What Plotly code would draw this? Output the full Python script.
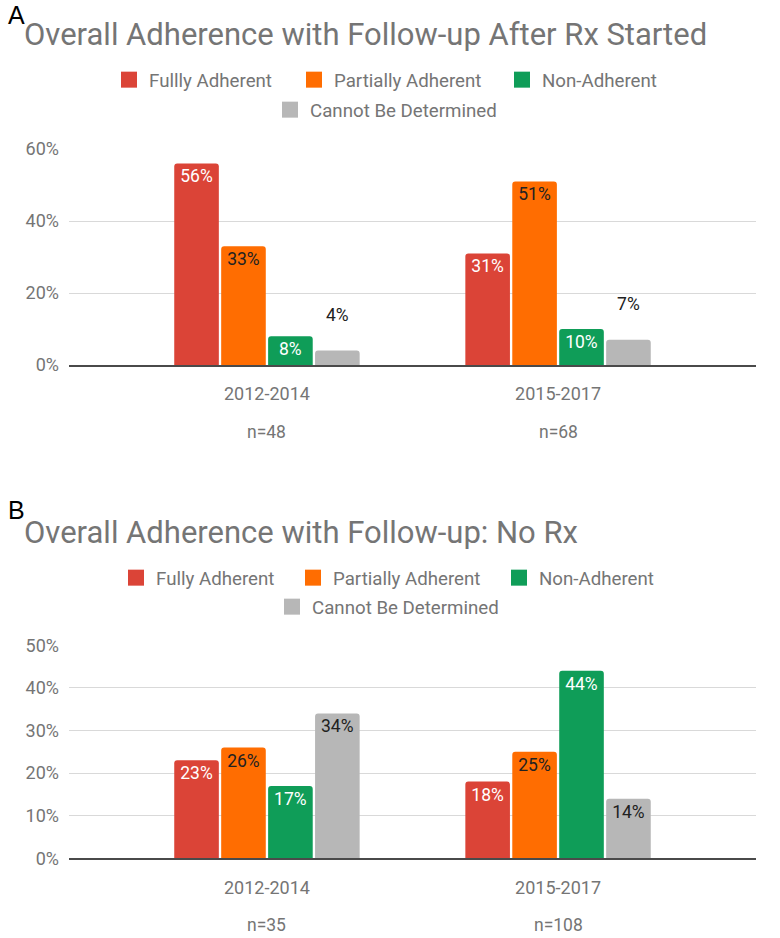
import plotly.graph_objects as go
from plotly.subplots import make_subplots

categories = ["2012-2014", "2015-2017"]
n_a = ["n=48", "n=68"]
n_b = ["n=35", "n=108"]
series_a = ["Fullly Adherent", "Partially Adherent", "Non-Adherent", "Cannot Be Determined"]
series_b = ["Fully Adherent", "Partially Adherent", "Non-Adherent", "Cannot Be Determined"]

fully_a = [56, 31]
partial_a = [33, 51]
non_a = [8, 10]
cbd_a = [4, 7]

fully_b = [23, 18]
partial_b = [26, 25]
non_b = [17, 44]
cbd_b = [34, 14]

title_a = "Overall Adherence with Follow-up After Rx Started"
title_b = "Overall Adherence with Follow-up: No Rx"

colors = ["#DB4437", "#FF6D01", "#0F9D58", "#B7B7B7"]
text_colors = ["#FFFFFF", "#212121", "#FFFFFF", "#212121"]
FONT = "Roboto"
GRAY = "#757575"

H = 938.0
W0, W1 = 69, 756


def py(px):
    return 1 - px / H


def px_x(px):
    return (px - W0) / (W1 - W0)


# legend swatch centre positions (pixels) for each panel: (x, y)
legend_pos_a = [(129, 80), (314, 80), (522, 80), (290, 110)]
legend_pos_b = [(136, 578), (313, 578), (519, 578), (292, 607)]

fig = make_subplots(rows=2, cols=1)


def add_panel(row, names, data, legend_ids, outside_idx):
    for i, (name, vals) in enumerate(zip(names, data)):
        if i in outside_idx:
            txt = [f"{v}%<br>\u00a0" for v in vals]
            pos = "outside"
        else:
            txt = [f"{v}%" for v in vals]
            pos = "inside"
        fig.add_trace(go.Bar(
            x=categories, y=vals, name=name,
            marker=dict(color=colors[i], line=dict(width=0)),
            text=txt, textposition=pos, insidetextanchor="end",
            textangle=0,
            insidetextfont=dict(family=FONT, size=17.5, color=text_colors[i]),
            outsidetextfont=dict(family=FONT, size=17.5, color="#212121"),
            cliponaxis=False, showlegend=False, legendgroup=f"{row}-{i}",
        ), row=row, col=1)
        # legend-only entry with a larger square swatch
        fig.add_trace(go.Scatter(
            x=[None], y=[None], mode="markers", name=name,
            marker=dict(symbol="square", size=16, color=colors[i]),
            legend=legend_ids[i], showlegend=True, legendgroup=f"{row}-{i}",
            hoverinfo="skip",
        ), row=row, col=1)


add_panel(1, series_a, [fully_a, partial_a, non_a, cbd_a],
          ["legend", "legend2", "legend3", "legend4"], [3])
add_panel(2, series_b, [fully_b, partial_b, non_b, cbd_b],
          ["legend5", "legend6", "legend7", "legend8"], [])

fig.update_xaxes(range=[-0.68, 1.68], showgrid=False, showline=True, linecolor="#4A4A4A",
                 linewidth=1.5, ticks="", tickfont=dict(family=FONT, size=18, color=GRAY),
                 ticklabelstandoff=12, zeroline=False, automargin=False)
fig.update_yaxes(showgrid=True, gridcolor="#D9D9D9", gridwidth=1, zeroline=False,
                 ticksuffix="%", ticks="", tickfont=dict(family=FONT, size=18, color=GRAY),
                 ticklabelstandoff=9, automargin=False, showline=False)

fig.update_layout(
    xaxis=dict(domain=[0, 1]),
    xaxis2=dict(domain=[0, 1]),
    yaxis=dict(domain=[py(365), py(149)], range=[0, 60], dtick=20),
    yaxis2=dict(domain=[py(858.3), py(645.3)], range=[0, 50], dtick=10),
)

leg_layout = {}
for k, (xc, yc) in enumerate(legend_pos_a + legend_pos_b):
    key = "legend" if k == 0 else f"legend{k + 1}"
    leg_layout[key] = dict(orientation="h", xanchor="left", yanchor="middle",
                           x=px_x(xc - 20), y=py(yc), bgcolor="rgba(0,0,0,0)",
                           borderwidth=0,
                           font=dict(family=FONT, size=18.7, color=GRAY),
                           itemclick=False, itemdoubleclick=False)
fig.update_layout(**leg_layout)

annotations = []
for t, yc in [(title_a, 34), (title_b, 532)]:
    annotations.append(dict(text=t, xref="paper", yref="paper", x=px_x(22), y=py(yc),
                            xanchor="left", yanchor="middle", showarrow=False,
                            font=dict(family=FONT, size=31, color=GRAY)))
for t, yc in [("A", 15), ("B", 510)]:
    annotations.append(dict(text=t, xref="paper", yref="paper", x=px_x(6), y=py(yc),
                            xanchor="left", yanchor="middle", showarrow=False,
                            font=dict(family="Liberation Sans", size=25, color="#000000")))
for xa, ya, labels in [("x", "y domain", n_a), ("x2", "y2 domain", n_b)]:
    for c, lab in zip(categories, labels):
        annotations.append(dict(text=lab, xref=xa, yref=ya, x=c, y=0, yshift=-67,
                                xanchor="center", yanchor="middle", showarrow=False,
                                borderpad=0,
                                font=dict(family=FONT, size=17.5, color=GRAY)))

fig.update_layout(
    width=780, height=938,
    margin=dict(l=69, r=24, t=0, b=0, autoexpand=False),
    paper_bgcolor="white", plot_bgcolor="white",
    barmode="group", bargap=0.355, bargroupgap=0.05, barcornerradius=3,
    annotations=annotations,
    font=dict(family=FONT, color=GRAY),
    uniformtext=dict(mode=False),
)

fig.write_html("out.html", config={"displayModeBar": False},
               post_script="document.body.style.margin='0';")
